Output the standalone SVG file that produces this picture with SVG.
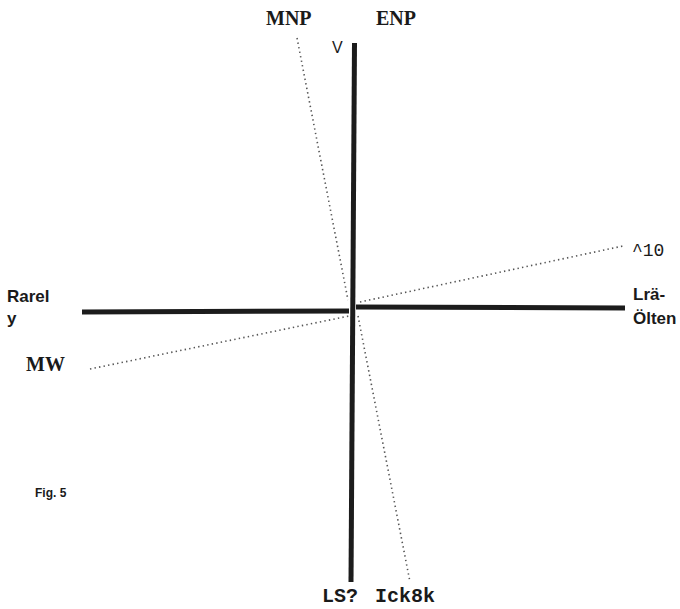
<svg xmlns="http://www.w3.org/2000/svg" width="680" height="609" viewBox="0 0 680 609">
<style>
.axis{stroke:#1c1c1c;stroke-width:5;stroke-linecap:butt;fill:none}
.dot{stroke:#555;stroke-width:1.6;stroke-dasharray:1.4 3.2;fill:none}
.serif{font-family:"Liberation Serif","DejaVu Serif",serif;font-weight:bold;font-size:20px;fill:#1a1a1a}
.sans{font-family:"Liberation Sans",Arial,sans-serif;font-weight:bold;font-size:17px;fill:#1a1a1a}
.mono{font-family:"Liberation Mono","Courier New",monospace;font-size:20px;fill:#1a1a1a}
</style>
<rect width="680" height="609" fill="#fff"/>
<g id="connectors">
<line class="dot" x1="297" y1="38" x2="348" y2="300"/>
<line class="dot" x1="358" y1="316" x2="410" y2="582"/>
<line class="dot" x1="90" y1="369" x2="349" y2="316"/>
<line class="dot" x1="360" y1="302" x2="623" y2="246"/>
<line class="axis" x1="354.5" y1="43" x2="351" y2="582"/>
<line class="axis" x1="82" y1="312" x2="349" y2="311"/>
<line class="axis" x1="356" y1="307" x2="625" y2="308"/>
</g>
<g id="MNP"><text class="serif" x="266" y="25">MNP</text></g>
<g id="ENP"><text class="serif" x="376" y="25">ENP</text></g>
<g id="V"><text x="332" y="53" style="font-family:'Liberation Sans',Arial,sans-serif;font-size:16px;fill:#1a1a1a">V</text></g>
<g id="Rarely"><text class="sans" x="7" y="302">Rarel</text><text class="sans" x="7" y="324">y</text></g>
<g id="MW"><text class="serif" x="26" y="371">MW</text></g>
<g id="p10"><text class="mono" x="632" y="256" style="font-size:18px">^10</text></g>
<g id="Lraolten"><text class="sans" x="633" y="300">Lrä-</text><text class="sans" x="633" y="324">Ölten</text></g>
<g id="LS"><text class="mono" x="322" y="602" style="font-weight:bold">LS?</text></g>
<g id="Ick8k"><text class="mono" x="375" y="602" style="font-weight:bold">Ick8k</text></g>
<g id="fig"><text x="35" y="497" style="font-family:'Liberation Sans',Arial,sans-serif;font-weight:bold;font-size:12px;fill:#1a1a1a">Fig. 5</text></g>
</svg>
